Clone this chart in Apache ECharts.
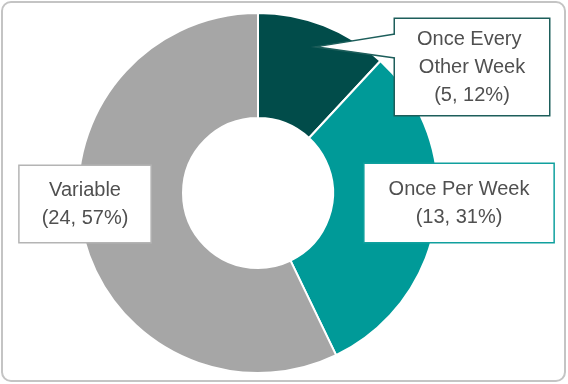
<!DOCTYPE html>
<html>
<head>
<meta charset="utf-8">
<script src="https://cdn.jsdelivr.net/npm/echarts@6/dist/echarts.min.js"></script>
<style>
  html, body { margin: 0; padding: 0; background: #fff; }
  #chart { width: 568px; height: 384px; }
</style>
</head>
<body>
<div id="chart"></div>
<script>
// chart data
var categories = ['Once Every Other Week', 'Once Per Week', 'Variable'];
var counts = [5, 13, 24];
var sliceColors = ['#014C4A', '#009A98', '#A6A6A6'];
var boxBorders = ['#1D5E5B', '#10A09E', '#B4B4B4'];

// pie geometry + where each callout box sits (centre, px)
var pieCenter = [258, 193];
var pieRadius = [75, 180];
var labelSpots = [[472, 67], [459, 203], [85, 204]];
var labelPads = [[6, 17], [11, 24], [10, 22]];

var myChart = echarts.init(document.getElementById('chart'));

var seriesData = categories.map(function (name, i) {
    return {
        name: name,
        value: counts[i],
        itemStyle: { color: sliceColors[i] },
        label: {
            borderColor: boxBorders[i],
            padding: labelPads[i],
            width: i === 0 ? 120 : null,
            overflow: i === 0 ? 'break' : 'none'
        }
    };
});

// callout pointer for the first slice: tip sits inside the slice at its mid angle
var total = counts.reduce(function (a, b) { return a + b; }, 0);
var midAng = Math.PI * 2 * (counts[0] / 2) / total;
var tipR = 157;
var tip = [pieCenter[0] + tipR * Math.sin(midAng), pieCenter[1] - tipR * Math.cos(midAng)];
var boxLeft = labelSpots[0][0] - (120 + labelPads[0][1] * 2) / 2;
var baseTop = [boxLeft + 1, 34];
var baseBot = [boxLeft + 1, 58];

var option = {
    animation: false,
    graphic: [{
        type: 'rect',
        shape: { x: 2, y: 2, width: 563, height: 379, r: 9 },
        style: { fill: 'none', stroke: '#C4C4C4', lineWidth: 2 },
        silent: true
    }, {
        type: 'polygon',
        z: 100,
        shape: { points: [tip, baseTop, baseBot] },
        style: { fill: '#ffffff', stroke: 'none' },
        silent: true
    }, {
        type: 'polyline',
        z: 101,
        shape: { points: [[baseTop[0] - 1, baseTop[1]], tip, [baseBot[0] - 1, baseBot[1]]] },
        style: { fill: 'none', stroke: boxBorders[0], lineWidth: 1.5 },
        silent: true
    }],
    series: [{
        type: 'pie',
        center: pieCenter,
        radius: pieRadius,
        startAngle: 90,
        clockwise: true,
        percentPrecision: 0,
        avoidLabelOverlap: false,
        itemStyle: { borderColor: '#ffffff', borderWidth: 2 },
        label: {
            show: true,
            position: 'outside',
            formatter: '{b}\n({c}, {d}%)',
            fontFamily: 'Liberation Sans',
            fontSize: 20,
            lineHeight: 28,
            color: '#505050',
            align: 'center',
            backgroundColor: '#ffffff',
            borderWidth: 1.5
        },
        labelLine: { show: false },
        labelLayout: function (params) {
            var p = labelSpots[params.dataIndex];
            return { x: p[0], y: p[1], align: 'center', verticalAlign: 'middle', hideOverlap: false };
        },
        emphasis: { disabled: true },
        data: seriesData
    }]
};

myChart.setOption(option);
</script>
</body>
</html>
